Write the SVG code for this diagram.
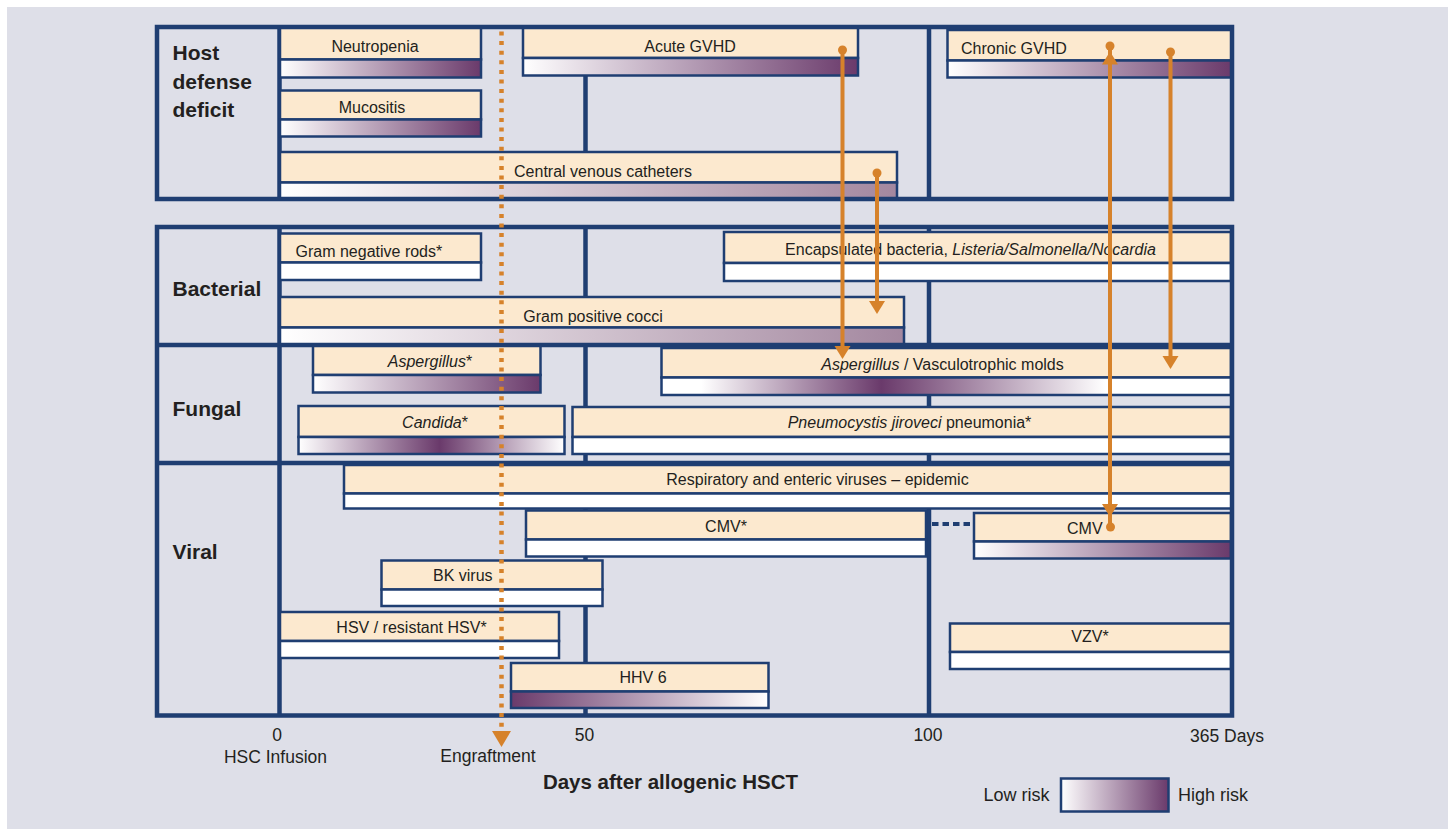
<svg xmlns="http://www.w3.org/2000/svg" width="1448" height="829" viewBox="0 0 1448 829">
<style>
text{font-family:"Liberation Sans",Arial,sans-serif;fill:#231f20}
.lb{font-size:16px;text-anchor:middle}
.ls{font-size:16px;text-anchor:start}
.rl{font-size:21px;font-weight:bold}
.ax{font-size:17.5px;text-anchor:middle}
.hd{fill:#fce9cf;stroke:#1f3e72;stroke-width:2.5}
.st{stroke:#1f3e72;stroke-width:2.5}
.w{fill:#ffffff}
.frame{fill:none;stroke:#1f3e72;stroke-width:4.5}
.grid{stroke:#1f3e72;stroke-width:4.5}
.arr{stroke:#d6822b;stroke-width:4;fill:none}
.dot{fill:#d6822b}
</style>
<defs>
<linearGradient id="gFull" x1="0" y1="0" x2="1" y2="0"><stop offset="0" stop-color="#ffffff"/><stop offset="1" stop-color="#6a3a6b"/></linearGradient>
<linearGradient id="gHalf" x1="0" y1="0" x2="1" y2="0"><stop offset="0" stop-color="#ffffff"/><stop offset="1" stop-color="#a3879f"/></linearGradient>
<linearGradient id="gPeak" x1="0" y1="0" x2="1" y2="0"><stop offset="0" stop-color="#ffffff"/><stop offset="0.53" stop-color="#6a3a6b"/><stop offset="1" stop-color="#ffffff"/></linearGradient>
<linearGradient id="gAsp" x1="0" y1="0" x2="1" y2="0"><stop offset="0" stop-color="#ffffff"/><stop offset="0.07" stop-color="#ffffff"/><stop offset="0.386" stop-color="#6a3a6b"/><stop offset="0.78" stop-color="#ffffff"/><stop offset="1" stop-color="#ffffff"/></linearGradient>
<linearGradient id="gRev" x1="0" y1="0" x2="1" y2="0"><stop offset="0" stop-color="#6a3a6b"/><stop offset="1" stop-color="#ffffff"/></linearGradient>
<marker id="ah" markerUnits="userSpaceOnUse" markerWidth="20" markerHeight="20" viewBox="-2 -10 18 20" refX="2" refY="0" orient="auto-start-reverse"><path d="M0,-8 L13,0 L0,8 Z" fill="#d6822b"/></marker>
<marker id="ahE" markerUnits="userSpaceOnUse" markerWidth="24" markerHeight="24" viewBox="-2 -12 20 24" refX="0" refY="0" orient="auto"><path d="M0,-9.5 L16,0 L0,9.5 Z" fill="#d6822b"/></marker>
</defs>
<rect x="0" y="0" width="1448" height="829" fill="#ffffff"/>
<rect x="7" y="7" width="1441" height="822" fill="#dedfe8"/>

<g id="grid">
<line class="grid" x1="279.5" y1="27" x2="279.5" y2="199"/>
<line class="grid" x1="585.5" y1="27" x2="585.5" y2="199"/>
<line class="grid" x1="929" y1="27" x2="929" y2="199"/>
<line class="grid" x1="279.5" y1="227" x2="279.5" y2="715.5"/>
<line class="grid" x1="585.5" y1="227" x2="585.5" y2="715.5"/>
<line class="grid" x1="929" y1="227" x2="929" y2="715.5"/>
<line class="grid" x1="157" y1="345" x2="1232" y2="345"/>
<line class="grid" x1="157" y1="463" x2="1232" y2="463"/>
</g>

<g id="row-labels">
<text class="rl" x="172.5" y="59.5">Host</text>
<text class="rl" x="172.5" y="88.5">defense</text>
<text class="rl" x="172.5" y="117">deficit</text>
<text class="rl" x="172.5" y="296">Bacterial</text>
<text class="rl" x="172.5" y="416">Fungal</text>
<text class="rl" x="172.5" y="559">Viral</text>
</g>

<g id="neutropenia"><rect class="hd" x="280" y="27.5" width="201" height="32"/><rect class="st" fill="url(#gFull)" x="280" y="59.5" width="201" height="18"/><text class="lb" x="375" y="51.5">Neutropenia</text></g>
<g id="mucositis"><rect class="hd" x="280" y="90.5" width="201" height="29"/><rect class="st" fill="url(#gFull)" x="280" y="119.5" width="201" height="17"/><text class="lb" x="372" y="113">Mucositis</text></g>
<g id="cvc"><rect class="hd" x="280" y="152" width="617" height="30.5"/><rect class="st" fill="url(#gHalf)" x="280" y="182.5" width="617" height="16.5"/><text class="lb" x="603" y="176.5">Central venous catheters</text></g>
<g id="acute-gvhd"><rect class="hd" x="523" y="27.5" width="335" height="30.5"/><rect class="st" fill="url(#gFull)" x="523" y="58" width="335" height="17.5"/><text class="lb" x="690" y="52">Acute GVHD</text></g>
<g id="chronic-gvhd"><rect class="hd" x="947.5" y="30" width="284" height="30.5"/><rect class="st" fill="url(#gFull)" x="947.5" y="60.5" width="284" height="17"/><text class="ls" x="961" y="54">Chronic GVHD</text></g>

<g id="gram-neg"><rect class="hd" x="280" y="233.5" width="201" height="29"/><rect class="st w" x="280" y="262.5" width="201" height="17.5"/><text class="ls" x="295.5" y="256.5">Gram negative rods*</text></g>
<g id="encapsulated"><rect class="hd" x="724" y="232" width="507" height="31"/><rect class="st w" x="724" y="263" width="507" height="18"/><text class="lb" x="970.5" y="255">Encapsulated bacteria, <tspan font-style="italic">Listeria/Salmonella/Nocardia</tspan></text></g>
<g id="gram-pos"><rect class="hd" x="280" y="297" width="624" height="30.5"/><rect class="st" fill="url(#gHalf)" x="280" y="327.5" width="624" height="16.5"/><text class="lb" x="593" y="321.5">Gram positive cocci</text></g>

<g id="aspergillus"><rect class="hd" x="313" y="346" width="227.5" height="29"/><rect class="st" fill="url(#gFull)" x="313" y="375" width="227.5" height="17.5"/><text class="lb" x="430" y="366.5"><tspan font-style="italic">Aspergillus</tspan>*</text></g>
<g id="aspergillus-molds"><rect class="hd" x="661.5" y="348" width="569.5" height="29.5"/><rect class="st" fill="url(#gAsp)" x="661.5" y="377.5" width="569.5" height="17.5"/><text class="lb" x="942.5" y="370"><tspan font-style="italic">Aspergillus</tspan> / Vasculotrophic molds</text></g>
<g id="candida"><rect class="hd" x="298.5" y="406" width="266" height="31"/><rect class="st" fill="url(#gPeak)" x="298.5" y="437" width="266" height="17"/><text class="lb" x="435" y="428"><tspan font-style="italic">Candida</tspan>*</text></g>
<g id="pneumocystis"><rect class="hd" x="572.5" y="407" width="658.5" height="30"/><rect class="st w" x="572.5" y="437" width="658.5" height="17"/><text class="lb" x="909.5" y="428"><tspan font-style="italic">Pneumocystis jiroveci</tspan> pneumonia*</text></g>

<g id="respiratory"><rect class="hd" x="344" y="465" width="887.5" height="28.5"/><rect class="st w" x="344" y="493.5" width="887.5" height="15"/><text class="lb" x="817.5" y="485">Respiratory and enteric viruses – epidemic</text></g>
<g id="cmv-early"><rect class="hd" x="526" y="510.5" width="400" height="29"/><rect class="st w" x="526" y="539.5" width="400" height="17"/><text class="lb" x="726" y="531.5">CMV*</text></g>
<g id="cmv-late"><rect class="hd" x="974" y="513" width="257" height="28.5"/><rect class="st" fill="url(#gFull)" x="974" y="541.5" width="257" height="17"/><text class="ls" x="1067" y="533.5">CMV</text></g>
<g id="bk-virus"><rect class="hd" x="381.5" y="560.5" width="221" height="29"/><rect class="st w" x="381.5" y="589.5" width="221" height="16.5"/><text class="ls" x="433" y="580.5">BK virus</text></g>
<g id="hsv"><rect class="hd" x="280" y="612" width="279" height="29"/><rect class="st w" x="280" y="641" width="279" height="17"/><text class="lb" x="411.5" y="632.5">HSV / resistant HSV*</text></g>
<g id="vzv"><rect class="hd" x="950" y="623.5" width="281" height="28.5"/><rect class="st w" x="950" y="652" width="281" height="17"/><text class="lb" x="1090" y="641.5">VZV*</text></g>
<g id="hhv6"><rect class="hd" x="511" y="663" width="257.5" height="28.5"/><rect class="st" fill="url(#gRev)" x="511" y="691.5" width="257.5" height="16.5"/><text class="lb" x="643" y="683">HHV 6</text></g>

<g id="frames">
<rect class="frame" x="157" y="27" width="1075" height="172"/>
<rect class="frame" x="157" y="227" width="1075" height="488.5"/>
</g>

<g id="connectors">
<line x1="501.5" y1="31.5" x2="501.5" y2="731" stroke="#d6822b" stroke-width="4.5" stroke-dasharray="4 5.6" marker-end="url(#ahE)"/>
<line x1="932" y1="524" x2="974" y2="524" stroke="#1f3e72" stroke-width="4" stroke-dasharray="6.5 4"/>
<line class="arr" x1="842.5" y1="50" x2="842.5" y2="348" marker-end="url(#ah)"/>
<circle class="dot" cx="842.5" cy="50" r="4.5"/>
<line class="arr" x1="877" y1="173" x2="877" y2="303" marker-end="url(#ah)"/>
<circle class="dot" cx="877" cy="173" r="4.5"/>
<line class="arr" x1="1110" y1="62.5" x2="1110" y2="506" marker-start="url(#ah)" marker-end="url(#ah)"/>
<line class="arr" x1="1110" y1="46" x2="1110" y2="56"/>
<line class="arr" x1="1110" y1="512" x2="1110" y2="527"/>
<circle class="dot" cx="1110" cy="46" r="4.5"/>
<circle class="dot" cx="1110.5" cy="527" r="4.5"/>
<line class="arr" x1="1170.5" y1="52" x2="1170.5" y2="358" marker-end="url(#ah)"/>
<circle class="dot" cx="1170.5" cy="52" r="4.5"/>
</g>

<g id="axis">
<text class="ax" x="277" y="741">0</text>
<text class="ax" x="275.5" y="763">HSC Infusion</text>
<text class="ax" x="488" y="762">Engraftment</text>
<text class="ax" x="584.5" y="741">50</text>
<text class="ax" x="928" y="741">100</text>
<text class="ax" x="1227" y="741.5">365 Days</text>
<text x="670.5" y="789" font-size="20.5" font-weight="bold" text-anchor="middle">Days after allogenic HSCT</text>
</g>

<g id="legend">
<text x="1049.5" y="801" font-size="18" text-anchor="end">Low risk</text>
<rect x="1061" y="778.5" width="107.5" height="33" fill="url(#gFull)" stroke="#1f3e72" stroke-width="2.5"/>
<text x="1178" y="801" font-size="18">High risk</text>
</g>
</svg>
